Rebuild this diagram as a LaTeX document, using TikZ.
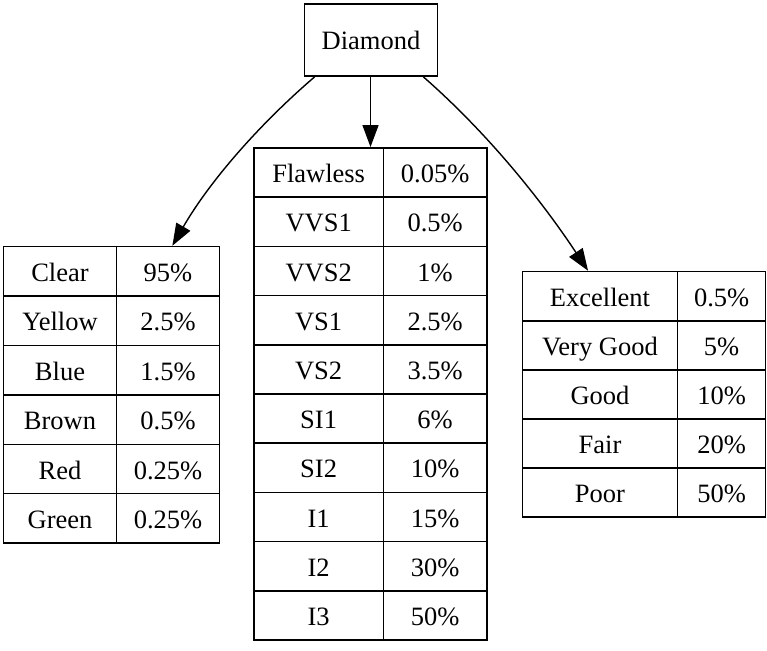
\documentclass[tikz,border=0pt]{standalone}
\usepackage{fontspec}
\setmainfont{Liberation Serif}
\usetikzlibrary{arrows.meta,fit}
\begin{document}
\begin{tikzpicture}[x=1pt,y=-1pt,
  every node/.style={font=\fontsize{26.5}{30}\selectfont, text height=20pt, text depth=0pt, inner sep=0pt},
  cell/.style={draw, line width=1.5pt, minimum height=#1},
  cell/.default=49.3pt,
  box/.style={draw, line width=1.5pt, minimum width=133pt, minimum height=72pt},
  whole/.style={draw=none, inner sep=0pt, fit=#1},
  edge/.style={line width=1.4pt, -{Triangle[length=22pt,width=16pt]}}]
\useasboundingbox (0,0) rectangle (767,650);

\node[box] (dia) at (371,40) {Diamond};

% left table
\foreach \a/\b [count=\i] in {Clear/95\%,Yellow/2.5\%,Blue/1.5\%,Brown/0.5\%,Red/0.25\%,Green/0.25\%}{
  \node[cell=49.4pt, minimum width=113.4pt] (L\i a) at (3.3+56.7, 246.7+\i*49.4-24.7) {\a};
  \node[cell=49.4pt, minimum width=102.6pt] (L\i b) at (116.7+51.3, 246.7+\i*49.4-24.7) {\b};
}
\node[whole=(L1a)(L6b)] (left) {};

% middle table
\foreach \a/\b [count=\i] in {Flawless/0.05\%,VVS1/0.5\%,VVS2/1\%,VS1/2.5\%,VS2/3.5\%,SI1/6\%,SI2/10\%,I1/15\%,I2/30\%,I3/50\%}{
  \node[cell=49.2pt, minimum width=129.3pt] (M\i a) at (254+64.65, 148+\i*49.2-24.6) {\a};
  \node[cell=49.2pt, minimum width=103.7pt] (M\i b) at (383.3+51.85, 148+\i*49.2-24.6) {\b};
}
\node[whole=(M1a)(M10b)] (mid) {};

% right table
\foreach \a/\b [count=\i] in {Excellent/0.5\%,Very Good/5\%,Good/10\%,Fair/20\%,Poor/50\%}{
  \node[cell=49.1pt, minimum width=155.4pt] (R\i a) at (522.3+77.7, 271.7+\i*49.1-24.55) {\a};
  \node[cell=49.1pt, minimum width=87.8pt] (R\i b) at (677.7+43.9, 271.7+\i*49.1-24.55) {\b};
}
\node[whole=(R1a)(R5b)] (right) {};

% connectors
\draw[edge] (dia.south -| mid.north) -- (mid.north);
\draw[edge] ([xshift=11pt]dia.south west) .. controls +(-56,48) and +(37,-64) .. ([xshift=170pt]left.north west);
\draw[edge] ([xshift=-15pt]dia.south east) .. controls +(64,56) and +(-47,-71) .. ([xshift=66.7pt]right.north west);
\end{tikzpicture}
\end{document}
